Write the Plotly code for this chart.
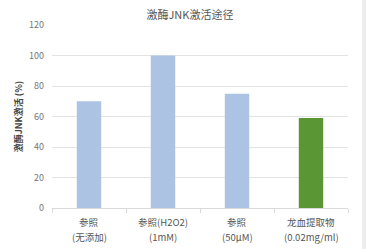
import plotly.graph_objects as go

categories = ["参照(无添加)", "参照(H2O2)(1mM)", "参照(50μM)", "龙血提取物(0.02mg/ml)"]
label_line1 = ["参照", "参照(H2O2)", "参照", "龙血提取物"]
label_line2 = ["(无添加)", "(1mM)", "(50μM)", "(0.02mg/ml)"]
values = [70, 100, 75, 59]
colors = ["#adc3e4", "#adc3e4", "#adc3e4", "#5b9634"]
y_ticks = [0, 20, 40, 60, 80, 100, 120]

FONT = "Noto Sans CJK SC, Noto Sans, sans-serif"

fig = go.Figure()
fig.add_trace(go.Bar(
    x=categories, y=values,
    marker=dict(color=colors, line=dict(width=0)),
    width=0.33,
))

for cat, l1, l2 in zip(categories, label_line1, label_line2):
    fig.add_annotation(x=cat, y=0, xref="x", yref="y", text=l1, showarrow=False,
                       yanchor="middle", yshift=-14, font=dict(size=9.5, color="#555555"))
    fig.add_annotation(x=cat, y=0, xref="x", yref="y", text=l2, showarrow=False,
                       yanchor="middle", yshift=-29, font=dict(size=9.5, color="#555555"))

fig.update_layout(
    width=366, height=249,
    margin=dict(l=52, r=18, t=25, b=41),
    paper_bgcolor="white", plot_bgcolor="white",
    showlegend=False,
    font=dict(family=FONT, color="#666666", size=10),
    title=dict(text="激酶JNK激活途径", x=0.466, xref="paper", xanchor="center",
               y=1 - 15 / 249, yanchor="middle",
               font=dict(family=FONT, size=11, color="#555555")),
    xaxis=dict(
        showgrid=False, showline=True, linecolor="#d9d9d9", linewidth=1,
        ticks="outside", tickson="boundaries", ticklen=4, tickcolor="#d9d9d9",
        showticklabels=False,
    ),
    yaxis=dict(
        range=[0, 120], tickvals=y_ticks, showgrid=True, gridcolor="#e3e3e3",
        gridwidth=1, zeroline=False, showline=False, ticks="",
        ticklabelstandoff=7,
        tickfont=dict(size=9, color="#777777"),
        title=dict(text="<b>激酶JNK激活 (%)</b>", font=dict(size=9, color="#444444"), standoff=4),
    ),
    bargap=0.67,
)

fig.add_shape(type="rect", xref="paper", yref="paper",
              x0=(362 - 52) / 296, x1=(366 - 52) / 296, y0=-1, y1=2,
              fillcolor="#ededed", line=dict(width=0), layer="below")

fig.write_html("out.html")
